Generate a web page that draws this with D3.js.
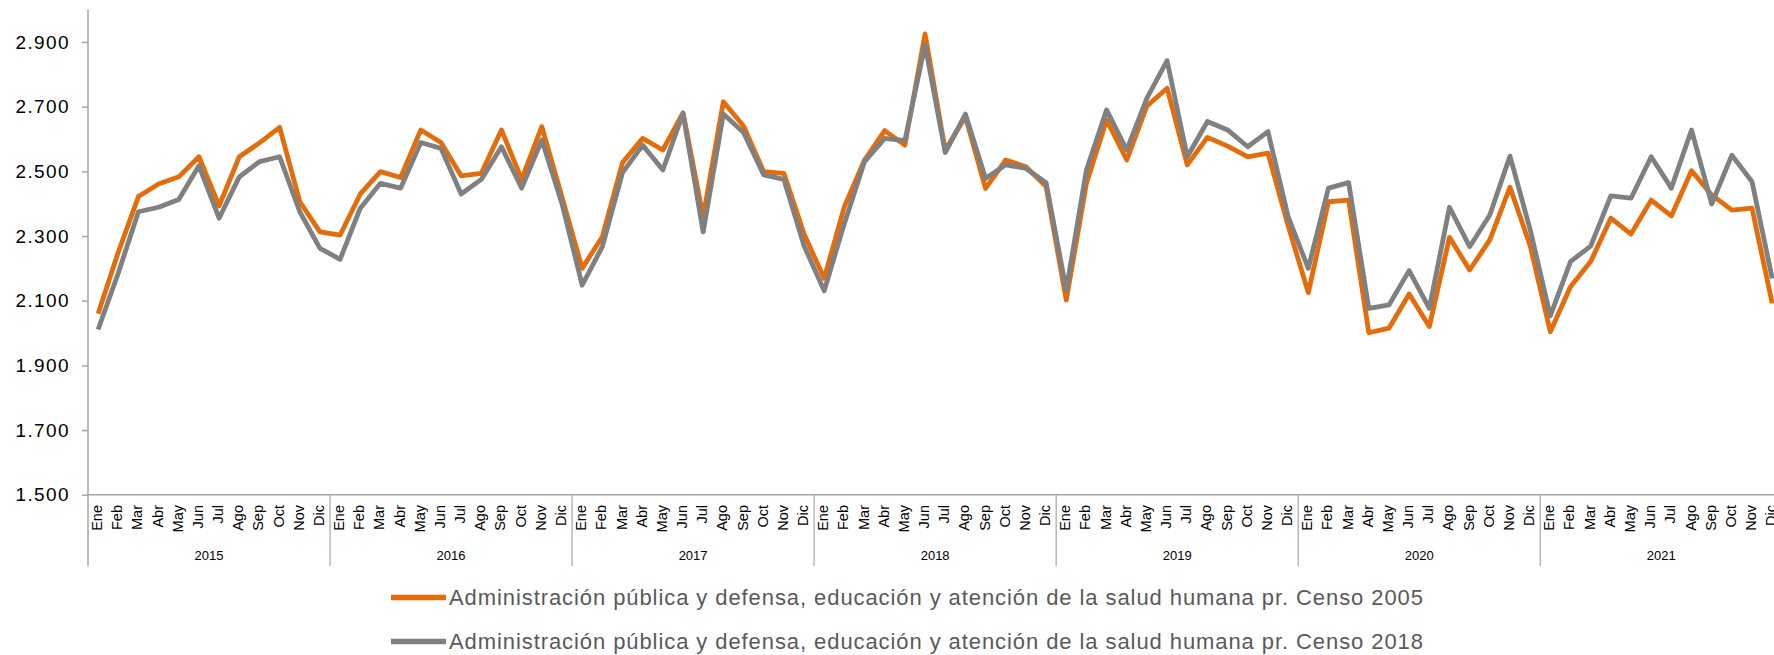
<!DOCTYPE html>
<html>
<head>
<meta charset="utf-8">
<script src="https://cdn.jsdelivr.net/npm/d3@7"></script>
<style>
  html, body { margin: 0; padding: 0; background: #ffffff; }
  svg { display: block; font-family: "Liberation Sans", Arial, sans-serif; }
</style>
</head>
<body>
<svg id="chart" width="1774" height="655"></svg>
<script>
// Months and years shown on the two-level category axis
const months = ["Ene", "Feb", "Mar", "Abr", "May", "Jun", "Jul", "Ago", "Sep", "Oct", "Nov", "Dic"];
const years = ["2015", "2016", "2017", "2018", "2019", "2020", "2021"];

// Y axis ticks
const yTicks = [1500, 1700, 1900, 2100, 2300, 2500, 2700, 2900];

// Monthly series (thousands of people), Jan 2015 – Dec 2021
const censo2005 = [
  2060, 2250, 2422, 2461, 2483, 2545, 2393, 2545, 2588, 2636, 2406, 2313,
  2303, 2430, 2499, 2481, 2628, 2589, 2486, 2494, 2628, 2475, 2638, 2420,
  2200, 2298, 2527, 2602, 2566, 2681, 2360, 2715, 2640, 2499, 2494, 2306,
  2169, 2391, 2535, 2626, 2581, 2925, 2565, 2669, 2447, 2535, 2514, 2453,
  2102, 2463, 2659, 2535, 2702, 2757, 2520, 2605, 2578, 2545, 2556, 2332,
  2125, 2406, 2411, 2001, 2015, 2121, 2020, 2296, 2195, 2288, 2451, 2270,
  2004, 2143, 2221, 2355, 2306, 2411, 2362, 2502, 2427, 2380, 2386, 2092
];
const censo2018 = [
  2011, 2185, 2375, 2389, 2413, 2517, 2355, 2483, 2530, 2545, 2375, 2262,
  2228, 2386, 2463, 2448, 2589, 2571, 2430, 2475, 2576, 2448, 2597, 2400,
  2148, 2267, 2496, 2581, 2504, 2679, 2313, 2677, 2620, 2489, 2475, 2270,
  2131, 2339, 2530, 2602, 2595, 2891, 2558, 2677, 2478, 2520, 2509, 2465,
  2133, 2504, 2690, 2566, 2726, 2842, 2545, 2654, 2628, 2576, 2623, 2360,
  2200, 2448, 2465, 2076, 2087, 2193, 2076, 2389, 2267, 2365, 2547, 2320,
  2053, 2221, 2269, 2424, 2417, 2545, 2448, 2628, 2399, 2550, 2468, 2169
];

const seriesNames = [
  "Administración pública y defensa, educación y atención de la salud humana pr. Censo 2005",
  "Administración pública y defensa, educación y atención de la salud humana pr. Censo 2018"
];
const seriesColors = ["#E46C0A", "#808080"];

// Layout
const plotLeft = 88, plotTop = 9.6, plotBottom = 494.8;
const step = 20.17;
const nPoints = months.length * years.length;
const plotRight = plotLeft + nPoints * step;
const groupBottom = 566;

const svg = d3.select("#chart");

const x = d3.scaleBand().domain(d3.range(nPoints)).range([plotLeft, plotRight]).paddingInner(0).paddingOuter(0);
const xc = i => x(i) + x.bandwidth() / 2;
const y = d3.scaleLinear().domain([1500, 3000]).range([plotBottom, plotTop]);

const axisColor = "#A6A6A6";
const esLocale = d3.formatLocale({ decimal: ",", thousands: ".", grouping: [3], currency: ["$", ""] });
const fmt = esLocale.format(",");

// Y axis
const yAxis = d3.axisLeft(y).tickValues(yTicks).tickSize(6).tickPadding(12).tickFormat(fmt);
const gy = svg.append("g").attr("transform", `translate(${plotLeft},0)`).call(yAxis);
gy.select(".domain").remove();
gy.selectAll(".tick line").attr("stroke", axisColor).attr("stroke-width", 1.5);
gy.selectAll(".tick text")
  .attr("fill", "#000")
  .style("font-size", "19px")
  .style("letter-spacing", "1.4px")
  .style("font-family", "'Liberation Sans', Arial, sans-serif");

// Axis lines
svg.append("line").attr("x1", plotLeft).attr("x2", plotLeft).attr("y1", plotTop).attr("y2", groupBottom)
  .attr("stroke", axisColor).attr("stroke-width", 1.5);
svg.append("line").attr("x1", plotLeft).attr("x2", plotRight).attr("y1", plotBottom).attr("y2", plotBottom)
  .attr("stroke", axisColor).attr("stroke-width", 1.5);

// Year separators
years.forEach((yr, k) => {
  if (k === 0) return;
  const xs = x(k * months.length);
  svg.append("line").attr("x1", xs).attr("x2", xs).attr("y1", plotBottom).attr("y2", groupBottom)
    .attr("stroke", axisColor).attr("stroke-width", 1.2);
});

// Month labels (rotated)
const monthG = svg.append("g");
d3.range(nPoints).forEach(i => {
  const px = xc(i) + 4;
  monthG.append("text")
    .attr("transform", `translate(${px},505) rotate(-90)`)
    .attr("text-anchor", "end")
    .attr("fill", "#000")
    .style("font-size", "14.5px")
    .text(months[i % months.length]);
});

// Year labels
years.forEach((yr, k) => {
  const x0 = x(k * months.length), x1 = x0 + months.length * step;
  svg.append("text")
    .attr("x", (x0 + x1) / 2).attr("y", 560)
    .attr("text-anchor", "middle")
    .attr("fill", "#000")
    .style("font-size", "13px")
    .text(yr);
});

// Series lines (Censo 2018 drawn on top)
const line = d3.line().x((d, i) => xc(i)).y(d => y(d));
[censo2005, censo2018].forEach((vals, s) => {
  svg.append("path")
    .datum(vals)
    .attr("d", line)
    .attr("fill", "none")
    .attr("stroke", seriesColors[s])
    .attr("stroke-width", 4.8)
    .attr("stroke-linejoin", "round")
    .attr("stroke-linecap", "butt");
});

// Legend
const legendY = [597.5, 641.5];
seriesNames.forEach((name, s) => {
  svg.append("line")
    .attr("x1", 391).attr("x2", 446)
    .attr("y1", legendY[s]).attr("y2", legendY[s])
    .attr("stroke", seriesColors[s]).attr("stroke-width", 5.5);
  svg.append("text")
    .attr("x", 449).attr("y", legendY[s])
    .attr("dy", "0.35em")
    .attr("fill", "#595959")
    .style("font-size", "22px")
    .attr("textLength", 974)
    .attr("lengthAdjust", "spacing")
    .text(name);
});
</script>
</body>
</html>
